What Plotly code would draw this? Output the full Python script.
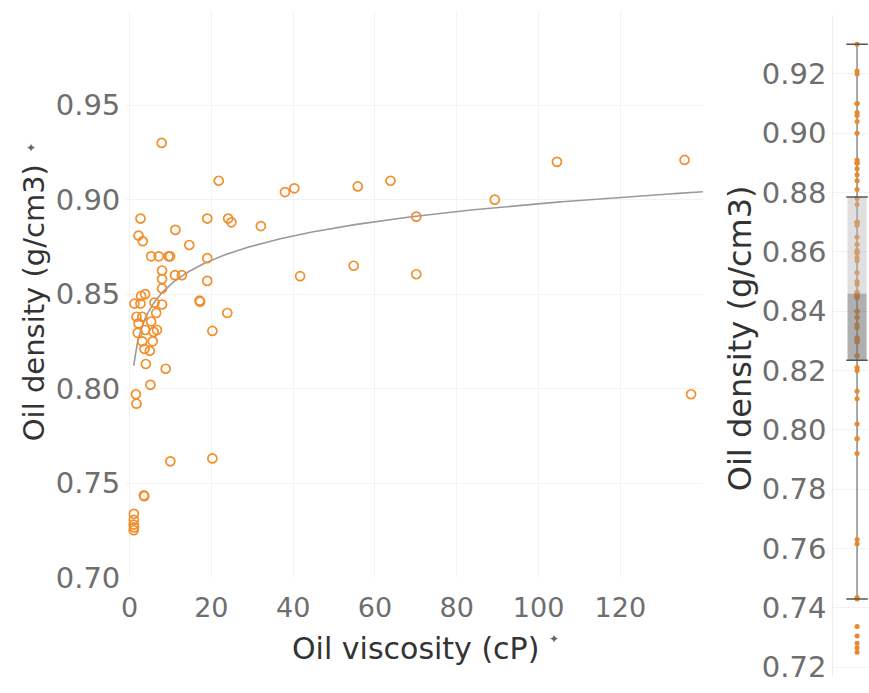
import numpy as np
import plotly.graph_objects as go

# ---- data ----
viscosity = [7.85, 21.8, 38.0, 40.3, 2.67, 19.0, 24.1, 24.9, 32.1, 2.19, 3.24, 11.2, 14.6,
             5.27, 7.13, 9.5, 9.9, 19.0, 7.94, 7.94, 11.1, 12.8, 19.0, 7.94, 41.7,
             3.8, 2.83, 1.2, 2.67, 7.94, 6.1, 17.25, 17.1, 1.7, 3.1, 6.5, 2.19, 5.27, 23.9,
             2.0, 3.8, 5.9, 6.7, 3.1, 5.67, 20.25, 3.65, 4.94, 3.97, 8.83, 5.1, 1.54, 1.7,
             9.96, 20.25, 3.5, 3.6, 1.05, 1.05, 1.0, 1.1, 1.0,
             55.8, 63.8, 70.1, 89.3, 104.5, 135.7, 54.8, 70.1, 137.3]
density = [0.930, 0.910, 0.904, 0.906, 0.890, 0.890, 0.890, 0.888, 0.886, 0.881, 0.878, 0.884, 0.876,
           0.870, 0.870, 0.870, 0.870, 0.869, 0.8625, 0.858, 0.860, 0.860, 0.857, 0.853, 0.8595,
           0.850, 0.849, 0.845, 0.845, 0.8445, 0.8455, 0.846, 0.8465, 0.838, 0.838, 0.840, 0.8345, 0.8355, 0.840,
           0.8295, 0.831, 0.830, 0.831, 0.825, 0.825, 0.8305, 0.821, 0.820, 0.813, 0.8105, 0.802, 0.797, 0.792,
           0.7615, 0.763, 0.7435, 0.743, 0.7337, 0.7305, 0.728, 0.7265, 0.725,
           0.907, 0.910, 0.891, 0.900, 0.920, 0.921, 0.865, 0.8605, 0.797]

# box-plot quartiles as shown in the picture
box_q1 = 0.8235
box_median = 0.846
box_q3 = 0.8785

# logarithmic trend line (density = a*ln(viscosity) + b), coefficients
trend_a = 0.0186
trend_b = 0.8122

x_ticks = [0, 20, 40, 60, 80, 100, 120]
y_ticks_left = [0.70, 0.75, 0.80, 0.85, 0.90, 0.95, 1.00]
y_ticks_right = [0.72, 0.74, 0.76, 0.78, 0.80, 0.82, 0.84, 0.86, 0.88, 0.90, 0.92, 0.94]

X_MAX = 140.2

orange = "#f28e2b"
tick_color = "#6e6e6e"
title_color = "#333333"
grid = "#f2f2f2"
FONT = "DejaVu Sans"
TICK_SIZE = 29

v = np.array(viscosity)
d = np.array(density)

xs = np.linspace(v.min(), X_MAX, 300)
ys = trend_a * np.log(xs) + trend_b

# whiskers (Tukey, 1.5 IQR)
iqr = box_q3 - box_q1
lo_w = d[d >= box_q1 - 1.5 * iqr].min()
hi_w = d[d <= box_q3 + 1.5 * iqr].max()

fig = go.Figure()

fig.add_trace(go.Scatter(x=xs, y=ys, mode="lines", line=dict(color="#9a9a9a", width=1.6),
                         hoverinfo="skip", xaxis="x", yaxis="y"))
fig.add_trace(go.Scatter(x=viscosity, y=density, mode="markers",
                         marker=dict(symbol="circle-open", size=9, color=orange, line=dict(width=1.7)),
                         xaxis="x", yaxis="y"))

# right box plot
hw = 0.4
fig.add_trace(go.Scatter(x=[0, 0], y=[lo_w, hi_w], mode="lines", line=dict(color="#8a8a8a", width=1.5),
                         xaxis="x2", yaxis="y2"))
fig.add_trace(go.Scatter(x=[0] * len(density), y=density, mode="markers",
                         marker=dict(size=5, color="#e8872c"), xaxis="x2", yaxis="y2"))
fig.add_trace(go.Scatter(x=[-hw, hw, hw, -hw, -hw], y=[box_q1, box_q1, box_median, box_median, box_q1],
                         mode="lines", fill="toself", fillcolor="rgba(110,110,110,0.55)",
                         line=dict(width=0), xaxis="x2", yaxis="y2"))
fig.add_trace(go.Scatter(x=[-hw, hw, hw, -hw, -hw], y=[box_median, box_median, box_q3, box_q3, box_median],
                         mode="lines", fill="toself", fillcolor="rgba(185,185,185,0.45)",
                         line=dict(width=0), xaxis="x2", yaxis="y2"))
for yy in [lo_w, hi_w, box_q1, box_q3]:
    fig.add_trace(go.Scatter(x=[-hw - 0.05, hw + 0.05], y=[yy, yy], mode="lines",
                             line=dict(color="#555555", width=1.5), xaxis="x2", yaxis="y2"))

W, H = 869, 693
L_left, L_right, L_top, L_bot = 122, 702, 11, 592
R_left, R_top = 833, 15

fig.update_layout(
    width=W, height=H, margin=dict(l=0, r=0, t=0, b=0),
    paper_bgcolor="white", plot_bgcolor="white", showlegend=False,
    font=dict(family=FONT, color=tick_color),
    xaxis=dict(domain=[L_left / W, L_right / W], range=[-0.8, X_MAX], tickvals=x_ticks,
               showgrid=True, gridcolor=grid, gridwidth=1, zeroline=False, showline=False,
               tickfont=dict(size=27, color=tick_color), ticks="", anchor="y",
               ticklabelstandoff=12),
    yaxis=dict(domain=[1 - L_bot / H, 1 - L_top / H], range=[0.70, 1.0], tickvals=y_ticks_left,
               ticktext=["%.2f" % t if t < 0.99 else "" for t in y_ticks_left],
               showgrid=True, gridcolor=grid, zeroline=False, showline=False,
               tickfont=dict(size=TICK_SIZE, color=tick_color), ticks="", anchor="x",
               ticklabelstandoff=5),
    xaxis2=dict(domain=[R_left / W, 1.0], range=[-1.0, 0.5], showgrid=False, zeroline=False,
                showticklabels=False, ticks="", anchor="y2"),
    yaxis2=dict(domain=[0, 1 - R_top / H], range=[0.717, 0.94], tickvals=y_ticks_right,
                ticktext=["%.2f" % t if t < 0.935 else "" for t in y_ticks_right],
                showgrid=True, gridcolor=grid, zeroline=False, showline=True, linecolor="#eeeeee",
                tickfont=dict(size=TICK_SIZE, color=tick_color), ticks="", anchor="x2"),
)

fig.add_annotation(text="Oil density (g/cm3)", x=30 / W, y=1 - 310 / H, xref="paper", yref="paper",
                   textangle=-90, showarrow=False, font=dict(family=FONT, size=29, color=title_color),
                   xanchor="center", yanchor="middle")
fig.add_annotation(text="Oil viscosity (cP)", x=413 / W, y=1 - 665 / H, xref="paper", yref="paper",
                   showarrow=False, font=dict(family=FONT, size=30, color=title_color),
                   xanchor="center", yanchor="middle")
fig.add_annotation(text="Oil density (g/cm3)", x=740 / W, y=1 - 347 / H, xref="paper", yref="paper",
                   textangle=-90, showarrow=False, font=dict(family=FONT, size=32, color=title_color),
                   xanchor="center", yanchor="middle")
pin = dict(family="DejaVu Sans", size=12, color="#666666")
fig.add_annotation(text="✦", x=26 / W, y=1 - 152 / H, xref="paper", yref="paper",
                   showarrow=False, font=pin, xanchor="center", yanchor="middle")
fig.add_annotation(text="✦", x=552 / W, y=1 - 655 / H, xref="paper", yref="paper",
                   showarrow=False, font=pin, xanchor="center", yanchor="middle")

fig.write_html("out.html", config={"displayModeBar": False},
               post_script="document.body.style.margin='0';document.body.style.overflow='hidden';")
